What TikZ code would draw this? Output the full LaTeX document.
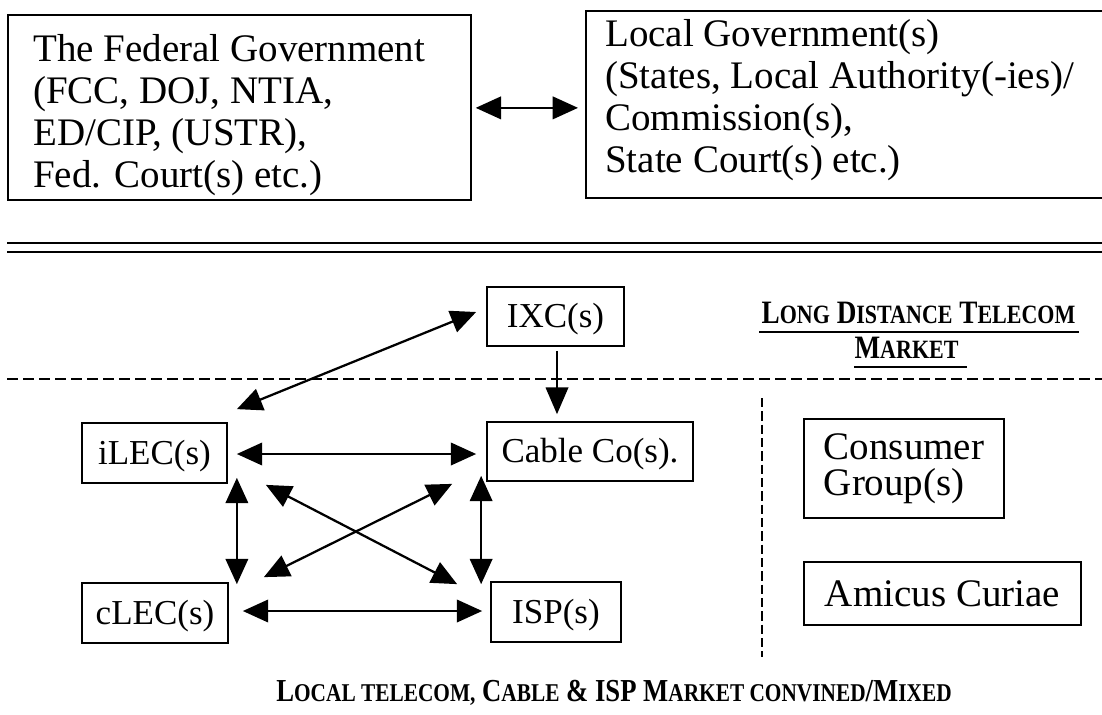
\documentclass[tikz,border=0pt]{standalone}
\usepackage{fontspec}
\setmainfont{Liberation Serif}
\usetikzlibrary{arrows.meta,calc}
\newcommand\smA{\fontsize{16.5pt}{18pt}\selectfont}
\newcommand\smB{\fontsize{16pt}{18pt}\selectfont}
\tikzset{
  box/.style={draw, line width=1.3pt, inner sep=0pt},
  bigtxt/.style={font=\fontsize{29.25pt}{31.5pt}\selectfont},
  midtxt/.style={font=\fontsize{26.25pt}{28pt}\selectfont},
  headtxt/.style={font=\fontsize{29.25pt}{31.5pt}\selectfont, align=left, inner sep=0pt, anchor=north west},
  dbl/.style={{Triangle[length=19pt,width=17pt]}-{Triangle[length=19pt,width=17pt]}, line width=1.3pt},
  dbldiag/.style={{Triangle[length=19pt,width=17pt]}-{Triangle[length=19pt,width=17pt]}, line width=1.7pt},
  one/.style={-{Triangle[length=20pt,width=17pt]}, line width=1pt},
  sctxt/.style={inner sep=0pt, anchor=base}
}
\begin{document}
\begin{tikzpicture}[x=0.75pt,y=-0.75pt]
\useasboundingbox (0,0) rectangle (1102,714);
\clip (0,0) rectangle (1102,714);
\fill[white] (0,0) rectangle (1102,714);

% government boxes
\node[box, anchor=north west, minimum width=347.25pt, minimum height=138.75pt] (fed) at (7,14) {};
\node[headtxt] (fedtxt) at (33,34) {The Federal Government\\(FCC, DOJ, NTIA,\\ED/CIP, (USTR),\\Fed. Court(s) etc.)};
\node[box, anchor=north west, minimum width=393.75pt, minimum height=140.25pt] (loc) at (585,10) {};
\node[headtxt] (loctxt) at (605,19) {Local Government(s)\\(States, Local Authority(-ies)/\\Commission(s),\\State Court(s) etc.)};
\draw[dbl] ($(fed.east)+(4,0.5)$) -- ($(loc.west)+(-7,3.5)$);

% double separator
\draw[line width=1.7pt] (7,243) -- (1102,243);
\draw[line width=1.7pt] (7,252) -- (1102,252);

% market separators
\draw[line width=1.2pt, dash pattern=on 8.5pt off 3.5pt] (7,379) -- (1102,379);
\draw[line width=0.9pt, dash pattern=on 7pt off 3pt] (762,398) -- (762,657);

% long distance label
\node[sctxt] (ld1) at (918.5,323) {\scalebox{1}[1.2]{\bfseries\fontsize{20.4pt}{22pt}\selectfont L{\smA ONG} D{\smA ISTANCE} T{\smA ELECOM}}};
\node[sctxt] (ld2) at (906.5,358) {\scalebox{1}[1.2]{\bfseries\fontsize{20.4pt}{22pt}\selectfont M{\smA ARKET}}};
\draw[line width=1.2pt] ($(ld1.base west)+(-2,9)$) -- ($(ld1.base east)+(3,9)$);
\draw[line width=1.2pt] ($(ld2.base west)+(0,9)$) -- ($(ld2.base east)+(8,9)$);

% market nodes
\node[box, midtxt, minimum width=102.75pt, minimum height=44.25pt, text height=17pt, text depth=0pt] (ixc) at (555.5,316.5) {IXC(s)};
\node[box, midtxt, minimum width=108.75pt, minimum height=45pt, text height=17pt, text depth=0pt] (ilec) at (154.5,453) {iLEC(s)};
\node[box, midtxt, minimum width=154.5pt, minimum height=44.25pt, text height=17pt, text depth=0pt] (cable) at (590,451.5) {Cable Co(s).};
\node[box, midtxt, minimum width=109.5pt, minimum height=45pt, text height=17pt, text depth=0pt] (clec) at (155,613) {cLEC(s)};
\node[box, midtxt, minimum width=97.5pt, minimum height=45pt, text height=17pt, text depth=0pt] (isp) at (556,612) {ISP(s)};
\node[box, align=left, minimum width=150pt, minimum height=74.25pt, font=\fontsize{29.25pt}{27pt}\selectfont] (cons) at (904,468.5) {Consumer\\Group(s)};
\node[box, bigtxt, minimum width=207.75pt, minimum height=47.25pt, text height=19pt, text depth=0pt] (amic) at (942.5,593.5) {Amicus Curiae};

% connectors
\draw[dbldiag] ($(ilec.north east)+(9,-13)$) -- ($(ixc.west)+(-10,-4.5)$);
\draw[one] ($(ixc.south)+(1.5,4)$) -- ($(cable.north)+(-33,-7)$);
\draw[dbl] ($(ilec.east)+(9,1)$) -- ($(cable.west)+(-10,2.5)$);
\draw[dbl] ($(ilec.south east)+(9,-6)$) -- ($(clec.north east)+(8,2)$);
\draw[dbl] ($(cable.south west)+(-5,-6)$) -- ($(isp.north west)+(-9,3)$);
\draw[dbl] ($(clec.east)+(14,-2)$) -- ($(isp.west)+(-8,-1)$);
\draw[dbldiag] ($(ilec.south east)+(38,1)$) -- ($(isp.north west)+(-33,3)$);
\draw[dbldiag] ($(clec.north east)+(35,-5)$) -- ($(cable.south west)+(-34,2)$);

% bottom label
\node[sctxt] (loclbl) at (614,701) {\scalebox{1}[1.2]{\bfseries\fontsize{20pt}{22pt}\selectfont L{\smB OCAL TELECOM,} C{\smB ABLE} \& ISP M{\smB ARKET CONVINED}/M{\smB IXED}}};
\end{tikzpicture}
\end{document}
